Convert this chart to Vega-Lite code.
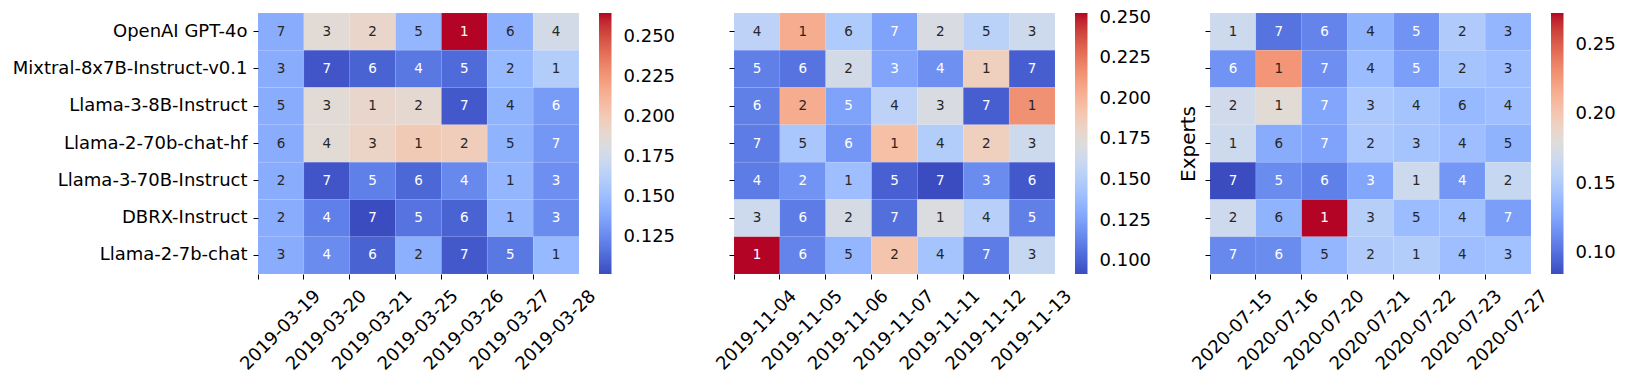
{
  "$schema": "https://vega.github.io/schema/vega-lite/v6.json",
  "padding": {"left": 12, "top": 12, "right": 5, "bottom": 5},
  "background": "white",
  "config": {
    "view": {"stroke": null},
    "font": "DejaVu Sans",
    "axis": {"domain": false, "tickColor": "black", "tickSize": 5, "tickWidth": 1, "labelColor": "black", "labelFontSize": 18, "labelLimit": 0, "grid": false},
    "legend": {"labelColor": "black", "labelLimit": 0}
  },
  "resolve": {"scale": {"color": "independent"}, "legend": {"color": "independent"}},
  "datasets": {
    "p1": [
      {"m": "OpenAI GPT-4o", "d": "2019-03-19", "v": 0.1411, "r": 7},
      {"m": "OpenAI GPT-4o", "d": "2019-03-20", "v": 0.1868, "r": 3},
      {"m": "OpenAI GPT-4o", "d": "2019-03-21", "v": 0.1917, "r": 2},
      {"m": "OpenAI GPT-4o", "d": "2019-03-25", "v": 0.1460, "r": 5},
      {"m": "OpenAI GPT-4o", "d": "2019-03-26", "v": 0.2650, "r": 1},
      {"m": "OpenAI GPT-4o", "d": "2019-03-27", "v": 0.1428, "r": 6},
      {"m": "OpenAI GPT-4o", "d": "2019-03-28", "v": 0.1770, "r": 4},
      {"m": "Mixtral-8x7B-Instruct-v0.1", "d": "2019-03-19", "v": 0.1411, "r": 3},
      {"m": "Mixtral-8x7B-Instruct-v0.1", "d": "2019-03-20", "v": 0.1053, "r": 7},
      {"m": "Mixtral-8x7B-Instruct-v0.1", "d": "2019-03-21", "v": 0.1102, "r": 6},
      {"m": "Mixtral-8x7B-Instruct-v0.1", "d": "2019-03-25", "v": 0.1183, "r": 4},
      {"m": "Mixtral-8x7B-Instruct-v0.1", "d": "2019-03-26", "v": 0.1134, "r": 5},
      {"m": "Mixtral-8x7B-Instruct-v0.1", "d": "2019-03-27", "v": 0.1476, "r": 2},
      {"m": "Mixtral-8x7B-Instruct-v0.1", "d": "2019-03-28", "v": 0.1607, "r": 1},
      {"m": "Llama-3-8B-Instruct", "d": "2019-03-19", "v": 0.1411, "r": 5},
      {"m": "Llama-3-8B-Instruct", "d": "2019-03-20", "v": 0.1868, "r": 3},
      {"m": "Llama-3-8B-Instruct", "d": "2019-03-21", "v": 0.1908, "r": 1},
      {"m": "Llama-3-8B-Instruct", "d": "2019-03-25", "v": 0.1884, "r": 2},
      {"m": "Llama-3-8B-Instruct", "d": "2019-03-26", "v": 0.1069, "r": 7},
      {"m": "Llama-3-8B-Instruct", "d": "2019-03-27", "v": 0.1444, "r": 4},
      {"m": "Llama-3-8B-Instruct", "d": "2019-03-28", "v": 0.1330, "r": 6},
      {"m": "Llama-2-70b-chat-hf", "d": "2019-03-19", "v": 0.1411, "r": 6},
      {"m": "Llama-2-70b-chat-hf", "d": "2019-03-20", "v": 0.1868, "r": 4},
      {"m": "Llama-2-70b-chat-hf", "d": "2019-03-21", "v": 0.1933, "r": 3},
      {"m": "Llama-2-70b-chat-hf", "d": "2019-03-25", "v": 0.1998, "r": 1},
      {"m": "Llama-2-70b-chat-hf", "d": "2019-03-26", "v": 0.1982, "r": 2},
      {"m": "Llama-2-70b-chat-hf", "d": "2019-03-27", "v": 0.1444, "r": 5},
      {"m": "Llama-2-70b-chat-hf", "d": "2019-03-28", "v": 0.1313, "r": 7},
      {"m": "Llama-3-70B-Instruct", "d": "2019-03-19", "v": 0.1411, "r": 2},
      {"m": "Llama-3-70B-Instruct", "d": "2019-03-20", "v": 0.1053, "r": 7},
      {"m": "Llama-3-70B-Instruct", "d": "2019-03-21", "v": 0.1216, "r": 5},
      {"m": "Llama-3-70B-Instruct", "d": "2019-03-25", "v": 0.1118, "r": 6},
      {"m": "Llama-3-70B-Instruct", "d": "2019-03-26", "v": 0.1248, "r": 4},
      {"m": "Llama-3-70B-Instruct", "d": "2019-03-27", "v": 0.1460, "r": 1},
      {"m": "Llama-3-70B-Instruct", "d": "2019-03-28", "v": 0.1281, "r": 3},
      {"m": "DBRX-Instruct", "d": "2019-03-19", "v": 0.1411, "r": 2},
      {"m": "DBRX-Instruct", "d": "2019-03-20", "v": 0.1216, "r": 4},
      {"m": "DBRX-Instruct", "d": "2019-03-21", "v": 0.1020, "r": 7},
      {"m": "DBRX-Instruct", "d": "2019-03-25", "v": 0.1167, "r": 5},
      {"m": "DBRX-Instruct", "d": "2019-03-26", "v": 0.1102, "r": 6},
      {"m": "DBRX-Instruct", "d": "2019-03-27", "v": 0.1460, "r": 1},
      {"m": "DBRX-Instruct", "d": "2019-03-28", "v": 0.1265, "r": 3},
      {"m": "Llama-2-7b-chat", "d": "2019-03-19", "v": 0.1411, "r": 3},
      {"m": "Llama-2-7b-chat", "d": "2019-03-20", "v": 0.1265, "r": 4},
      {"m": "Llama-2-7b-chat", "d": "2019-03-21", "v": 0.1102, "r": 6},
      {"m": "Llama-2-7b-chat", "d": "2019-03-25", "v": 0.1428, "r": 2},
      {"m": "Llama-2-7b-chat", "d": "2019-03-26", "v": 0.1069, "r": 7},
      {"m": "Llama-2-7b-chat", "d": "2019-03-27", "v": 0.1183, "r": 5},
      {"m": "Llama-2-7b-chat", "d": "2019-03-28", "v": 0.1476, "r": 1}
    ],
    "p2": [
      {"m": "OpenAI GPT-4o", "d": "2019-11-04", "v": 0.1548, "r": 4},
      {"m": "OpenAI GPT-4o", "d": "2019-11-05", "v": 0.2047, "r": 1},
      {"m": "OpenAI GPT-4o", "d": "2019-11-06", "v": 0.1484, "r": 6},
      {"m": "OpenAI GPT-4o", "d": "2019-11-07", "v": 0.1258, "r": 7},
      {"m": "OpenAI GPT-4o", "d": "2019-11-11", "v": 0.1693, "r": 2},
      {"m": "OpenAI GPT-4o", "d": "2019-11-12", "v": 0.1532, "r": 5},
      {"m": "OpenAI GPT-4o", "d": "2019-11-13", "v": 0.1628, "r": 3},
      {"m": "Mixtral-8x7B-Instruct-v0.1", "d": "2019-11-04", "v": 0.1113, "r": 5},
      {"m": "Mixtral-8x7B-Instruct-v0.1", "d": "2019-11-05", "v": 0.1065, "r": 6},
      {"m": "Mixtral-8x7B-Instruct-v0.1", "d": "2019-11-06", "v": 0.1661, "r": 2},
      {"m": "Mixtral-8x7B-Instruct-v0.1", "d": "2019-11-07", "v": 0.1274, "r": 3},
      {"m": "Mixtral-8x7B-Instruct-v0.1", "d": "2019-11-11", "v": 0.1178, "r": 4},
      {"m": "Mixtral-8x7B-Instruct-v0.1", "d": "2019-11-12", "v": 0.1854, "r": 1},
      {"m": "Mixtral-8x7B-Instruct-v0.1", "d": "2019-11-13", "v": 0.0984, "r": 7},
      {"m": "Llama-3-8B-Instruct", "d": "2019-11-04", "v": 0.1113, "r": 6},
      {"m": "Llama-3-8B-Instruct", "d": "2019-11-05", "v": 0.2047, "r": 2},
      {"m": "Llama-3-8B-Instruct", "d": "2019-11-06", "v": 0.1258, "r": 5},
      {"m": "Llama-3-8B-Instruct", "d": "2019-11-07", "v": 0.1548, "r": 4},
      {"m": "Llama-3-8B-Instruct", "d": "2019-11-11", "v": 0.1693, "r": 3},
      {"m": "Llama-3-8B-Instruct", "d": "2019-11-12", "v": 0.0984, "r": 7},
      {"m": "Llama-3-8B-Instruct", "d": "2019-11-13", "v": 0.2160, "r": 1},
      {"m": "Llama-2-70b-chat-hf", "d": "2019-11-04", "v": 0.1097, "r": 7},
      {"m": "Llama-2-70b-chat-hf", "d": "2019-11-05", "v": 0.1451, "r": 5},
      {"m": "Llama-2-70b-chat-hf", "d": "2019-11-06", "v": 0.1210, "r": 6},
      {"m": "Llama-2-70b-chat-hf", "d": "2019-11-07", "v": 0.1950, "r": 1},
      {"m": "Llama-2-70b-chat-hf", "d": "2019-11-11", "v": 0.1500, "r": 4},
      {"m": "Llama-2-70b-chat-hf", "d": "2019-11-12", "v": 0.1854, "r": 2},
      {"m": "Llama-2-70b-chat-hf", "d": "2019-11-13", "v": 0.1628, "r": 3},
      {"m": "Llama-3-70B-Instruct", "d": "2019-11-04", "v": 0.1097, "r": 4},
      {"m": "Llama-3-70B-Instruct", "d": "2019-11-05", "v": 0.1194, "r": 2},
      {"m": "Llama-3-70B-Instruct", "d": "2019-11-06", "v": 0.1403, "r": 1},
      {"m": "Llama-3-70B-Instruct", "d": "2019-11-07", "v": 0.0992, "r": 5},
      {"m": "Llama-3-70B-Instruct", "d": "2019-11-11", "v": 0.0920, "r": 7},
      {"m": "Llama-3-70B-Instruct", "d": "2019-11-12", "v": 0.1162, "r": 3},
      {"m": "Llama-3-70B-Instruct", "d": "2019-11-13", "v": 0.0968, "r": 6},
      {"m": "DBRX-Instruct", "d": "2019-11-04", "v": 0.1628, "r": 3},
      {"m": "DBRX-Instruct", "d": "2019-11-05", "v": 0.1097, "r": 6},
      {"m": "DBRX-Instruct", "d": "2019-11-06", "v": 0.1677, "r": 2},
      {"m": "DBRX-Instruct", "d": "2019-11-07", "v": 0.1049, "r": 7},
      {"m": "DBRX-Instruct", "d": "2019-11-11", "v": 0.1709, "r": 1},
      {"m": "DBRX-Instruct", "d": "2019-11-12", "v": 0.1524, "r": 4},
      {"m": "DBRX-Instruct", "d": "2019-11-13", "v": 0.1113, "r": 5},
      {"m": "Llama-2-7b-chat", "d": "2019-11-04", "v": 0.2530, "r": 1},
      {"m": "Llama-2-7b-chat", "d": "2019-11-05", "v": 0.1129, "r": 6},
      {"m": "Llama-2-7b-chat", "d": "2019-11-06", "v": 0.1355, "r": 5},
      {"m": "Llama-2-7b-chat", "d": "2019-11-07", "v": 0.1926, "r": 2},
      {"m": "Llama-2-7b-chat", "d": "2019-11-11", "v": 0.1435, "r": 4},
      {"m": "Llama-2-7b-chat", "d": "2019-11-12", "v": 0.1097, "r": 7},
      {"m": "Llama-2-7b-chat", "d": "2019-11-13", "v": 0.1596, "r": 3}
    ],
    "p3": [
      {"m": "OpenAI GPT-4o", "d": "2020-07-15", "v": 0.1677, "r": 1},
      {"m": "OpenAI GPT-4o", "d": "2020-07-16", "v": 0.1019, "r": 7},
      {"m": "OpenAI GPT-4o", "d": "2020-07-20", "v": 0.1094, "r": 6},
      {"m": "OpenAI GPT-4o", "d": "2020-07-21", "v": 0.1339, "r": 4},
      {"m": "OpenAI GPT-4o", "d": "2020-07-22", "v": 0.1170, "r": 5},
      {"m": "OpenAI GPT-4o", "d": "2020-07-23", "v": 0.1508, "r": 2},
      {"m": "OpenAI GPT-4o", "d": "2020-07-27", "v": 0.1358, "r": 3},
      {"m": "Mixtral-8x7B-Instruct-v0.1", "d": "2020-07-15", "v": 0.1170, "r": 6},
      {"m": "Mixtral-8x7B-Instruct-v0.1", "d": "2020-07-16", "v": 0.2279, "r": 1},
      {"m": "Mixtral-8x7B-Instruct-v0.1", "d": "2020-07-20", "v": 0.1151, "r": 7},
      {"m": "Mixtral-8x7B-Instruct-v0.1", "d": "2020-07-21", "v": 0.1395, "r": 4},
      {"m": "Mixtral-8x7B-Instruct-v0.1", "d": "2020-07-22", "v": 0.1226, "r": 5},
      {"m": "Mixtral-8x7B-Instruct-v0.1", "d": "2020-07-23", "v": 0.1452, "r": 2},
      {"m": "Mixtral-8x7B-Instruct-v0.1", "d": "2020-07-27", "v": 0.1414, "r": 3},
      {"m": "Llama-3-8B-Instruct", "d": "2020-07-15", "v": 0.1696, "r": 2},
      {"m": "Llama-3-8B-Instruct", "d": "2020-07-16", "v": 0.1828, "r": 1},
      {"m": "Llama-3-8B-Instruct", "d": "2020-07-20", "v": 0.1264, "r": 7},
      {"m": "Llama-3-8B-Instruct", "d": "2020-07-21", "v": 0.1489, "r": 3},
      {"m": "Llama-3-8B-Instruct", "d": "2020-07-22", "v": 0.1452, "r": 4},
      {"m": "Llama-3-8B-Instruct", "d": "2020-07-23", "v": 0.1376, "r": 6},
      {"m": "Llama-3-8B-Instruct", "d": "2020-07-27", "v": 0.1414, "r": 4},
      {"m": "Llama-2-70b-chat-hf", "d": "2020-07-15", "v": 0.1677, "r": 1},
      {"m": "Llama-2-70b-chat-hf", "d": "2020-07-16", "v": 0.1292, "r": 6},
      {"m": "Llama-2-70b-chat-hf", "d": "2020-07-20", "v": 0.1245, "r": 7},
      {"m": "Llama-2-70b-chat-hf", "d": "2020-07-21", "v": 0.1489, "r": 2},
      {"m": "Llama-2-70b-chat-hf", "d": "2020-07-22", "v": 0.1452, "r": 3},
      {"m": "Llama-2-70b-chat-hf", "d": "2020-07-23", "v": 0.1414, "r": 4},
      {"m": "Llama-2-70b-chat-hf", "d": "2020-07-27", "v": 0.1339, "r": 5},
      {"m": "Llama-3-70B-Instruct", "d": "2020-07-15", "v": 0.0850, "r": 7},
      {"m": "Llama-3-70B-Instruct", "d": "2020-07-16", "v": 0.1132, "r": 5},
      {"m": "Llama-3-70B-Instruct", "d": "2020-07-20", "v": 0.1076, "r": 6},
      {"m": "Llama-3-70B-Instruct", "d": "2020-07-21", "v": 0.1264, "r": 3},
      {"m": "Llama-3-70B-Instruct", "d": "2020-07-22", "v": 0.1677, "r": 1},
      {"m": "Llama-3-70B-Instruct", "d": "2020-07-23", "v": 0.1188, "r": 4},
      {"m": "Llama-3-70B-Instruct", "d": "2020-07-27", "v": 0.1640, "r": 2},
      {"m": "DBRX-Instruct", "d": "2020-07-15", "v": 0.1677, "r": 2},
      {"m": "DBRX-Instruct", "d": "2020-07-16", "v": 0.1339, "r": 6},
      {"m": "DBRX-Instruct", "d": "2020-07-20", "v": 0.2730, "r": 1},
      {"m": "DBRX-Instruct", "d": "2020-07-21", "v": 0.1546, "r": 3},
      {"m": "DBRX-Instruct", "d": "2020-07-22", "v": 0.1395, "r": 5},
      {"m": "DBRX-Instruct", "d": "2020-07-23", "v": 0.1433, "r": 4},
      {"m": "DBRX-Instruct", "d": "2020-07-27", "v": 0.1226, "r": 7},
      {"m": "Llama-2-7b-chat", "d": "2020-07-15", "v": 0.1113, "r": 7},
      {"m": "Llama-2-7b-chat", "d": "2020-07-16", "v": 0.1132, "r": 6},
      {"m": "Llama-2-7b-chat", "d": "2020-07-20", "v": 0.1358, "r": 5},
      {"m": "Llama-2-7b-chat", "d": "2020-07-21", "v": 0.1508, "r": 2},
      {"m": "Llama-2-7b-chat", "d": "2020-07-22", "v": 0.1527, "r": 1},
      {"m": "Llama-2-7b-chat", "d": "2020-07-23", "v": 0.1414, "r": 4},
      {"m": "Llama-2-7b-chat", "d": "2020-07-27", "v": 0.1433, "r": 3}
    ]
  },
  "hconcat": [
    {
      "width": 321, "height": 261,
      "data": {"name": "p1"},
      "encoding": {
        "x": {"field": "d", "type": "nominal", "sort": null, "scale": {"paddingInner": 0, "paddingOuter": 0},
              "axis": {"title": null, "bandPosition": 0, "labelAngle": -45, "labelAlign": "center", "labelBaseline": "middle", "labelPadding": 51, "labelOverlap": false}},
        "y": {"field": "m", "type": "nominal", "sort": null, "scale": {"paddingInner": 0, "paddingOuter": 0},
              "axis": {"title": null, "labelPadding": 6, "labelOverlap": false}}
      },
      "layer": [
        {"mark": {"type": "rect", "stroke": "white", "strokeWidth": 0.4, "strokeOpacity": 0.15},
         "encoding": {"color": {"field": "v", "type": "quantitative",
           "scale": {"domain": [0.102, 0.11219, 0.12238, 0.13256, 0.14275, 0.15294, 0.16313, 0.17331, 0.1835, 0.19369, 0.20388, 0.21406, 0.22425, 0.23444, 0.24463, 0.25481, 0.265],
                     "range": ["#3b4cc0", "#4d68d7", "#6282ea", "#779af7", "#8db0fe", "#a3c2ff", "#b8d0f9", "#ccd9ee", "#dddddd", "#ecd3c5", "#f5c4ad", "#f7b194", "#f49a7b", "#ec7f63", "#de604d", "#cb3e38", "#b40426"], "zero": false},
           "legend": {"title": null, "orient": "right", "offset": 20, "padding": 0, "direction": "vertical", "gradientLength": 261, "gradientThickness": 12.5, "gradientStrokeWidth": 0, "labelFontSize": 18, "labelOffset": 12, "values": [0.125, 0.15, 0.175, 0.2, 0.225, 0.25], "format": ".3f"}}}},
        {"mark": {"type": "text", "fontSize": 13.5},
         "encoding": {"text": {"field": "r", "type": "nominal"},
           "color": {"condition": {"test": "datum.v < 0.1395 || datum.v > 0.2487", "value": "white"}, "value": "#262626"}}}
      ]
    },
    {
      "width": 321, "height": 261,
      "data": {"name": "p2"},
      "encoding": {
        "x": {"field": "d", "type": "nominal", "sort": null, "scale": {"paddingInner": 0, "paddingOuter": 0},
              "axis": {"title": null, "bandPosition": 0, "labelAngle": -45, "labelAlign": "center", "labelBaseline": "middle", "labelPadding": 51, "labelOverlap": false}},
        "y": {"field": "m", "type": "nominal", "sort": null, "scale": {"paddingInner": 0, "paddingOuter": 0},
              "axis": {"title": null, "labels": false}}
      },
      "layer": [
        {"mark": {"type": "rect", "stroke": "white", "strokeWidth": 0.4, "strokeOpacity": 0.15},
         "encoding": {"color": {"field": "v", "type": "quantitative",
           "scale": {"domain": [0.092, 0.10206, 0.11213, 0.12219, 0.13225, 0.14231, 0.15238, 0.16244, 0.1725, 0.18256, 0.19263, 0.20269, 0.21275, 0.22281, 0.23288, 0.24294, 0.253],
                     "range": ["#3b4cc0", "#4d68d7", "#6282ea", "#779af7", "#8db0fe", "#a3c2ff", "#b8d0f9", "#ccd9ee", "#dddddd", "#ecd3c5", "#f5c4ad", "#f7b194", "#f49a7b", "#ec7f63", "#de604d", "#cb3e38", "#b40426"], "zero": false},
           "legend": {"title": null, "orient": "right", "offset": 20, "padding": 0, "direction": "vertical", "gradientLength": 261, "gradientThickness": 12.5, "gradientStrokeWidth": 0, "labelFontSize": 18, "labelOffset": 12, "values": [0.1, 0.125, 0.15, 0.175, 0.2, 0.225, 0.25], "format": ".3f"}}}},
        {"mark": {"type": "text", "fontSize": 13.5},
         "encoding": {"text": {"field": "r", "type": "nominal"},
           "color": {"condition": {"test": "datum.v < 0.129 || datum.v > 0.237", "value": "white"}, "value": "#262626"}}}
      ]
    },
    {
      "width": 321, "height": 261,
      "data": {"name": "p3"},
      "encoding": {
        "x": {"field": "d", "type": "nominal", "sort": null, "scale": {"paddingInner": 0, "paddingOuter": 0},
              "axis": {"title": null, "bandPosition": 0, "labelAngle": -45, "labelAlign": "center", "labelBaseline": "middle", "labelPadding": 51, "labelOverlap": false}},
        "y": {"field": "m", "type": "nominal", "sort": null, "scale": {"paddingInner": 0, "paddingOuter": 0},
              "axis": {"title": "Experts", "labels": false, "titleFontSize": 20, "titleFontWeight": "normal", "titleColor": "black", "titlePadding": 6}}
      },
      "layer": [
        {"mark": {"type": "rect", "stroke": "white", "strokeWidth": 0.4, "strokeOpacity": 0.15},
         "encoding": {"color": {"field": "v", "type": "quantitative",
           "scale": {"domain": [0.085, 0.09675, 0.1085, 0.12025, 0.132, 0.14375, 0.1555, 0.16725, 0.179, 0.19075, 0.2025, 0.21425, 0.226, 0.23775, 0.2495, 0.26125, 0.273],
                     "range": ["#3b4cc0", "#4d68d7", "#6282ea", "#779af7", "#8db0fe", "#a3c2ff", "#b8d0f9", "#ccd9ee", "#dddddd", "#ecd3c5", "#f5c4ad", "#f7b194", "#f49a7b", "#ec7f63", "#de604d", "#cb3e38", "#b40426"], "zero": false},
           "legend": {"title": null, "orient": "right", "offset": 20, "padding": 0, "direction": "vertical", "gradientLength": 261, "gradientThickness": 12.5, "gradientStrokeWidth": 0, "labelFontSize": 18, "labelOffset": 12, "values": [0.1, 0.15, 0.2, 0.25], "format": ".2f"}}}},
        {"mark": {"type": "text", "fontSize": 13.5},
         "encoding": {"text": {"field": "r", "type": "nominal"},
           "color": {"condition": {"test": "datum.v < 0.1282 || datum.v > 0.254", "value": "white"}, "value": "#262626"}}}
      ]
    }
  ],
  "spacing": 155,
  "bounds": "flush"
}
